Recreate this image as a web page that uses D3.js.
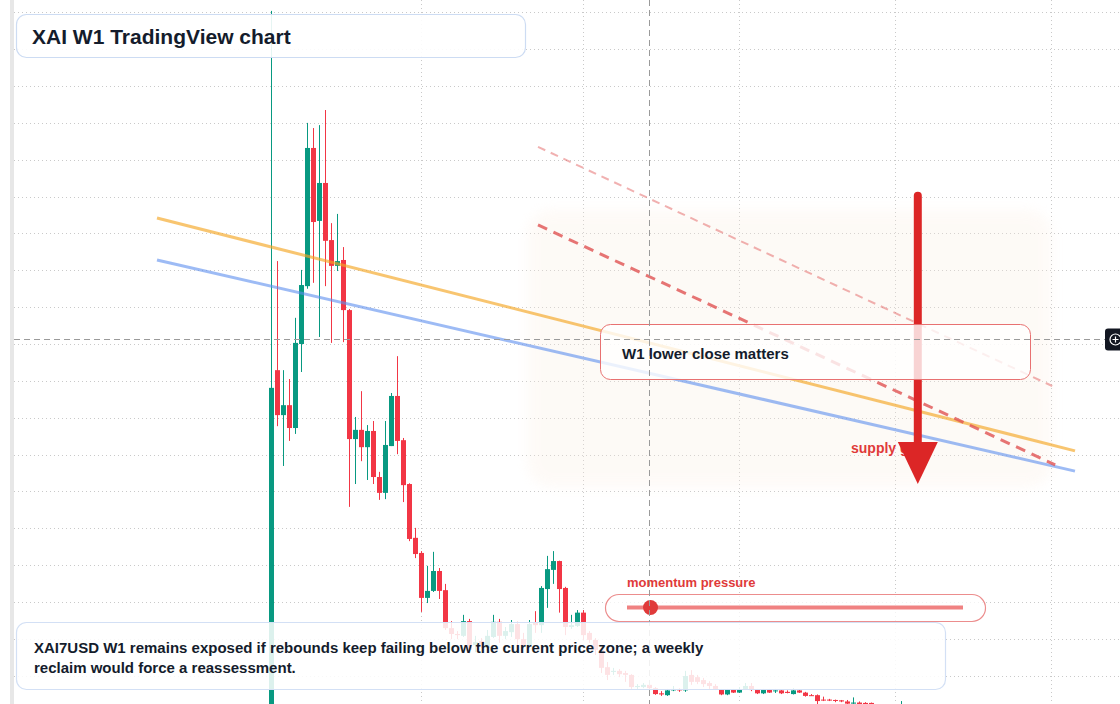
<!DOCTYPE html>
<html lang="en">
<head>
<meta charset="UTF-8" />
<title>XAI W1 TradingView chart</title>
<script src="https://d3js.org/d3.v7.min.js"></script>
<style>
  body { margin: 0; background: #fff; font-family: "Liberation Sans", Arial, sans-serif; }
  svg { display: block; }
  .grid line { stroke: #c9c9c9; stroke-width: 1; stroke-dasharray: 1, 3; }
  .box-text { font-weight: bold; fill: #141c2c; }
</style>
</head>
<body>
<svg id="chart" width="1120" height="704"></svg>
<script>
// weekly candles, first bar week of 2024-01-08
const startWeek = new Date(Date.UTC(2024, 0, 8));

const opens = [
  0.020, 0.929, 0.807, 0.834, 0.772, 1.000, 1.157, 1.532, 1.334, 1.437,
  1.282, 1.212, 1.228, 1.092, 0.742, 0.767, 0.720, 0.764, 0.639, 0.596,
  0.723, 0.859, 0.739, 0.620, 0.474, 0.433, 0.311, 0.330, 0.384, 0.332,
  0.229, 0.213, 0.208, 0.248, 0.183, 0.194, 0.175, 0.205, 0.246, 0.208,
  0.218, 0.240, 0.199, 0.183, 0.243, 0.237, 0.335, 0.387, 0.411, 0.338,
  0.232, 0.235, 0.271, 0.216, 0.197, 0.170, 0.123, 0.110, 0.113, 0.107,
  0.102, 0.069, 0.069, 0.075, 0.066, 0.052, 0.047, 0.060, 0.064, 0.060,
  0.102, 0.096, 0.088, 0.080, 0.072, 0.061, 0.049, 0.061, 0.054, 0.064,
  0.072, 0.061, 0.052, 0.061, 0.058, 0.060, 0.056, 0.050, 0.060, 0.054,
  0.047, 0.047, 0.035, 0.035, 0.034, 0.033, 0.030, 0.024, 0.027, 0.026,
  0.026, 0.019, 0.017, 0.016, 0.015, 0.012
];
const highs = [
  1.904, 1.225, 0.929, 0.905, 1.071, 1.201, 1.600, 1.586, 1.594, 1.635,
  1.328, 1.353, 1.263, 1.095, 0.802, 0.872, 0.780, 0.791, 0.653, 0.791,
  0.867, 0.967, 0.745, 0.622, 0.501, 0.438, 0.398, 0.436, 0.392, 0.349,
  0.248, 0.221, 0.265, 0.254, 0.208, 0.202, 0.224, 0.265, 0.254, 0.232,
  0.251, 0.246, 0.216, 0.251, 0.275, 0.343, 0.425, 0.438, 0.412, 0.341,
  0.265, 0.278, 0.278, 0.221, 0.202, 0.175, 0.137, 0.121, 0.118, 0.113,
  0.104, 0.077, 0.080, 0.077, 0.069, 0.058, 0.064, 0.072, 0.066, 0.113,
  0.115, 0.102, 0.094, 0.085, 0.077, 0.064, 0.064, 0.064, 0.069, 0.080,
  0.080, 0.064, 0.064, 0.064, 0.064, 0.061, 0.060, 0.066, 0.062, 0.056,
  0.050, 0.049, 0.043, 0.037, 0.035, 0.034, 0.034, 0.041, 0.030, 0.028,
  0.027, 0.020, 0.019, 0.017, 0.016, 0.031
];
const lows = [
  0.010, 0.777, 0.669, 0.737, 0.756, 0.924, 1.150, 1.166, 1.019, 1.157,
  1.003, 1.198, 1.005, 0.558, 0.620, 0.682, 0.631, 0.620, 0.577, 0.579,
  0.723, 0.701, 0.571, 0.465, 0.419, 0.273, 0.297, 0.327, 0.308, 0.224,
  0.199, 0.199, 0.205, 0.160, 0.164, 0.175, 0.170, 0.202, 0.189, 0.199,
  0.205, 0.183, 0.175, 0.180, 0.216, 0.216, 0.284, 0.349, 0.271, 0.210,
  0.227, 0.232, 0.197, 0.189, 0.156, 0.107, 0.088, 0.102, 0.096, 0.083,
  0.064, 0.064, 0.066, 0.064, 0.048, 0.045, 0.045, 0.058, 0.056, 0.056,
  0.075, 0.077, 0.069, 0.064, 0.061, 0.047, 0.047, 0.053, 0.053, 0.061,
  0.058, 0.050, 0.050, 0.053, 0.053, 0.050, 0.052, 0.049, 0.053, 0.043,
  0.045, 0.023, 0.031, 0.031, 0.028, 0.028, 0.023, 0.020, 0.020, 0.020,
  0.018, 0.015, 0.014, 0.013, 0.012, 0.010
];
const closes = [
  0.881, 0.807, 0.834, 0.772, 1.003, 1.160, 1.532, 1.331, 1.437, 1.280,
  1.212, 1.225, 1.092, 0.742, 0.767, 0.720, 0.764, 0.639, 0.596, 0.726,
  0.859, 0.737, 0.617, 0.471, 0.430, 0.311, 0.330, 0.384, 0.330, 0.229,
  0.213, 0.210, 0.248, 0.170, 0.191, 0.183, 0.208, 0.246, 0.208, 0.221,
  0.240, 0.199, 0.183, 0.240, 0.237, 0.338, 0.389, 0.411, 0.335, 0.232,
  0.237, 0.271, 0.210, 0.197, 0.170, 0.121, 0.102, 0.113, 0.104, 0.102,
  0.069, 0.072, 0.075, 0.066, 0.050, 0.049, 0.060, 0.064, 0.060, 0.099,
  0.083, 0.083, 0.077, 0.072, 0.064, 0.049, 0.061, 0.054, 0.061, 0.072,
  0.061, 0.052, 0.061, 0.054, 0.060, 0.052, 0.053, 0.060, 0.054, 0.045,
  0.046, 0.031, 0.033, 0.033, 0.032, 0.030, 0.024, 0.027, 0.023, 0.023,
  0.022, 0.017, 0.016, 0.015, 0.014, 0.016
];

// drawings: [week offset from startWeek, price]
const orangeTrend = [[-19, 1.342], [134, 0.710]];
const blueTrend = [[-19, 1.228], [134, 0.655]];
const dashStrong = [[44.5, 1.323], [130.7, 0.672]];
const dashLight = [[44.5, 1.535], [130.2, 0.886]];
const supplyZone = [[42.7, 1.364], [130.2, 0.612]];
const arrowPath = [[107.8, 1.402], [107.8, 0.620]];
const crosshair = [63, 1.014];
const momentumValue = 0.07;

const titleText = "XAI W1 TradingView chart";
const calloutText = "W1 lower close matters";
const supplyText = "supply gate";
const momentumLabel = "momentum pressure";
const captionLines = [
  "XAI7USD W1 remains exposed if rebounds keep failing below the current price zone; a weekly",
  "reclaim would force a reassessment."
];

const W = 1120, H = 704;
const upColor = "#089981", downColor = "#f23645";

const wk = (n) => new Date(+startWeek + n * 6048e5);

const x = d3.scaleUtc()
  .domain([startWeek, wk(104)])
  .range([271, 895]);

const y = d3.scaleLinear()
  .domain([0, 1.9])
  .range([712.5, 12.35]);

const candles = opens.map((o, i) => ({
  date: wk(i), open: o, high: highs[i], low: lows[i], close: closes[i]
}));

const svg = d3.select("#chart");

const defs = svg.append("defs");
defs.append("clipPath").attr("id", "pane")
  .append("rect").attr("x", 14).attr("y", 0).attr("width", W - 14).attr("height", H);
defs.append("filter").attr("id", "soft")
  .attr("x", "-10%").attr("y", "-10%").attr("width", "120%").attr("height", "120%")
  .append("feGaussianBlur").attr("stdDeviation", 6);

svg.append("rect").attr("width", W).attr("height", H).attr("fill", "#fff");
svg.append("rect").attr("x", 10).attr("width", 4).attr("height", H).attr("fill", "#e7e7e7");

const pane = svg.append("g").attr("clip-path", "url(#pane)");

// grid
const grid = pane.append("g").attr("class", "grid");
grid.selectAll(".h")
  .data(y.ticks(20))
  .join("line")
  .attr("x1", 14).attr("x2", W)
  .attr("y1", (d) => Math.round(y(d)) + 0.5)
  .attr("y2", (d) => Math.round(y(d)) + 0.5);

// half-year marks on the first bar of January / July
const gridWeeks = d3.range(1, 150).map(wk)
  .filter((d) => (d.getUTCMonth() === 0 || d.getUTCMonth() === 6) && d.getUTCDate() <= 7);
grid.selectAll(".v")
  .data(gridWeeks)
  .join("line")
  .attr("x1", (d) => Math.round(x(d)) + 0.5)
  .attr("x2", (d) => Math.round(x(d)) + 0.5)
  .attr("y1", 0).attr("y2", H);

// supply zone shading
pane.append("rect")
  .attr("x", x(wk(supplyZone[0][0])))
  .attr("y", y(supplyZone[0][1]))
  .attr("width", x(wk(supplyZone[1][0])) - x(wk(supplyZone[0][0])))
  .attr("height", y(supplyZone[1][1]) - y(supplyZone[0][1]))
  .attr("rx", 24)
  .attr("fill", "#fbeee2")
  .attr("opacity", 0.28)
  .attr("filter", "url(#soft)");

// candles
const cg = pane.append("g");
const cx = (d) => Math.round(x(d.date));
const colorOf = (d) => (d.close >= d.open ? upColor : downColor);

cg.selectAll(".wick")
  .data(candles)
  .join("line")
  .attr("x1", (d) => cx(d) + 0.5)
  .attr("x2", (d) => cx(d) + 0.5)
  .attr("y1", (d) => y(d.high))
  .attr("y2", (d) => y(d.low))
  .attr("stroke", colorOf)
  .attr("stroke-width", 1);

cg.selectAll(".body")
  .data(candles)
  .join("rect")
  .attr("x", (d) => cx(d) - 2)
  .attr("width", 5)
  .attr("y", (d) => y(Math.max(d.open, d.close)))
  .attr("height", (d) => Math.max(1, Math.abs(y(d.open) - y(d.close))))
  .attr("fill", colorOf);

// trend lines
const seg = (pts) => d3.line().x((p) => x(wk(p[0]))).y((p) => y(p[1]))(pts);

pane.append("path").attr("d", seg(orangeTrend))
  .attr("stroke", "#f5a623").attr("stroke-opacity", 0.65)
  .attr("stroke-width", 3).attr("fill", "none");
pane.append("path").attr("d", seg(blueTrend))
  .attr("stroke", "#5b8def").attr("stroke-opacity", 0.6)
  .attr("stroke-width", 3).attr("fill", "none");
pane.append("path").attr("d", seg(dashLight))
  .attr("stroke", "#e05252").attr("stroke-opacity", 0.45)
  .attr("stroke-width", 2).attr("stroke-dasharray", "8,6").attr("fill", "none");
pane.append("path").attr("d", seg(dashStrong))
  .attr("stroke", "#e05252").attr("stroke-opacity", 0.8)
  .attr("stroke-width", 3).attr("stroke-dasharray", "10,7").attr("fill", "none");

// supply gate label + arrow
svg.append("text")
  .attr("x", 851).attr("y", 453)
  .attr("fill", "#e03a3a")
  .attr("font-size", 14).attr("font-weight", "bold")
  .text(supplyText);

const ax = x(wk(arrowPath[0][0]));
const aTop = y(arrowPath[0][1]);
const aTip = y(arrowPath[1][1]);
svg.append("line")
  .attr("x1", ax).attr("x2", ax)
  .attr("y1", aTop).attr("y2", aTip - 40)
  .attr("stroke", "#dc2626").attr("stroke-width", 8).attr("stroke-linecap", "round");
svg.append("path")
  .attr("d", `M${ax - 20},${aTip - 42}L${ax + 20},${aTip - 42}L${ax},${aTip}Z`)
  .attr("fill", "#dc2626");

// callout box
svg.append("rect")
  .attr("x", 600.5).attr("y", 324.5).attr("width", 430).attr("height", 55).attr("rx", 10)
  .attr("fill", "#fff").attr("fill-opacity", 0.8)
  .attr("stroke", "#e87171").attr("stroke-width", 1);
svg.append("text").attr("class", "box-text")
  .attr("x", 622).attr("y", 359).attr("font-size", 15)
  .text(calloutText);

// momentum pressure slider
const track = d3.scaleLinear().domain([0, 1]).range([627, 963]);
svg.append("text")
  .attr("x", 627).attr("y", 587)
  .attr("fill", "#e03a3a").attr("font-size", 13).attr("font-weight", "bold")
  .text(momentumLabel);
svg.append("rect")
  .attr("x", 605.5).attr("y", 594.5).attr("width", 380).attr("height", 27).attr("rx", 13.5)
  .attr("fill", "#fff").attr("fill-opacity", 0.75)
  .attr("stroke", "#ec8d8d").attr("stroke-width", 1.2);
svg.append("line")
  .attr("x1", track(0)).attr("x2", track(1)).attr("y1", 607.5).attr("y2", 607.5)
  .attr("stroke", "#f08282").attr("stroke-width", 4);
svg.append("circle")
  .attr("cx", track(momentumValue)).attr("cy", 607.5).attr("r", 7.5)
  .attr("fill", "#e03a3a");

// crosshair
const chx = Math.round(x(wk(crosshair[0]))) + 0.5;
const chy = Math.round(y(crosshair[1])) + 0.5;
svg.append("line")
  .attr("x1", chx).attr("x2", chx).attr("y1", 0).attr("y2", H)
  .attr("stroke", "#9a9a9a").attr("stroke-dasharray", "6,4");
svg.append("line")
  .attr("x1", 14).attr("x2", 1105).attr("y1", chy).attr("y2", chy)
  .attr("stroke", "#9a9a9a").attr("stroke-dasharray", "6,4");
svg.append("rect")
  .attr("x", 1105).attr("y", chy - 11).attr("width", 20).attr("height", 22).attr("rx", 3)
  .attr("fill", "#131722");
svg.append("circle")
  .attr("cx", 1115.5).attr("cy", chy).attr("r", 5.5)
  .attr("fill", "none").attr("stroke", "#fff").attr("stroke-width", 1.2);
svg.append("path")
  .attr("d", `M1112.5,${chy}H1118.5M1115.5,${chy - 3}V${chy + 3}`)
  .attr("stroke", "#fff").attr("stroke-width", 1.2);

// caption box
svg.append("rect")
  .attr("x", 16.5).attr("y", 622.5).attr("width", 929).attr("height", 67).attr("rx", 10)
  .attr("fill", "#fff").attr("fill-opacity", 0.86)
  .attr("stroke", "#d3e0f5").attr("stroke-width", 1.2);
svg.append("text").attr("class", "box-text")
  .attr("font-size", 15)
  .selectAll("tspan")
  .data(captionLines)
  .join("tspan")
  .attr("x", 34)
  .attr("y", (d, i) => 653 + i * 20)
  .text((d) => d);

// title box
svg.append("rect")
  .attr("x", 16.5).attr("y", 14.5).attr("width", 509).attr("height", 43).attr("rx", 10)
  .attr("fill", "#fff").attr("fill-opacity", 0.9)
  .attr("stroke", "#cddcf3").attr("stroke-width", 1.2);
svg.append("text").attr("class", "box-text")
  .attr("x", 32).attr("y", 43.5).attr("font-size", 21)
  .text(titleText);
</script>
</body>
</html>
